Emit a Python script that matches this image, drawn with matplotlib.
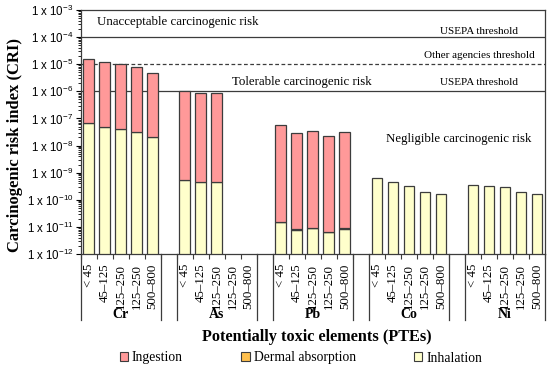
import numpy as np
import matplotlib
matplotlib.use("Agg")
import matplotlib.pyplot as plt
from matplotlib.patches import Patch
import matplotlib.transforms as mtransforms
from matplotlib.ticker import FixedLocator, LogLocator, NullFormatter

plt.rcParams['font.family'] = ['Liberation Serif', 'DejaVu Serif']
plt.rcParams['mathtext.fontset'] = 'custom'
plt.rcParams['mathtext.rm'] = 'Liberation Sans'
plt.rcParams['mathtext.it'] = 'Liberation Sans:italic'
plt.rcParams['mathtext.bf'] = 'Liberation Sans:bold'

elements = ["Cr", "As", "Pb", "Co", "Ni"]
fractions = ["< 45", "45\u2013125", "125\u2013250", "125\u2013250", "500\u2013800"]

# values per element (5 fractions each); None = no bar
inhalation = {
    "Cr": [6.6e-8, 4.95e-8, 4.2e-8, 3.2e-8, 2.0e-8],
    "As": [5.4e-10, 4.4e-10, 4.4e-10, None, None],
    "Pb": [1.47e-11, 7.9e-12, 8.9e-12, 6.3e-12, 8.7e-12],
    "Co": [6.5e-10, 4.5e-10, 3.35e-10, 2.0e-10, 1.6e-10],
    "Ni": [3.65e-10, 3.35e-10, 2.9e-10, 1.95e-10, 1.65e-10],
}
dermal = {
    "Cr": [0, 0, 0, 0, 0],
    "As": [0, 0, 0, None, None],
    "Pb": [0.6e-12, 0.5e-12, 0.5e-12, 0.4e-12, 0.5e-12],
    "Co": [0, 0, 0, 0, 0],
    "Ni": [0, 0, 0, 0, 0],
}
ingestion = {
    "Cr": [1.61e-5, 1.22e-5, 1.0e-5, 7.6e-6, 4.8e-6],
    "As": [1.04e-6, 8.8e-7, 8.8e-7, None, None],
    "Pb": [5.6e-8, 3.0e-8, 3.5e-8, 2.3e-8, 3.2e-8],
    "Co": [0, 0, 0, 0, 0],
    "Ni": [0, 0, 0, 0, 0],
}

c_ing = "#FF9999"
c_derm = "#FFC04D"
c_inh = "#FFFFCC"
edge = "#3C3C3C"

fig = plt.figure(figsize=(5.5, 3.71), dpi=100)
ax = fig.add_axes([80.5/550, 1-254/371, (545-80.5)/550, (254-10)/371])

ymin = 1e-12
bw = 0.66
tick_pos = []
tick_lab = []
for g, el in enumerate(elements):
    for j in range(5):
        x = 6*g + j
        tick_pos.append(x)
        tick_lab.append(fractions[j])
        inh = inhalation[el][j]
        if inh is None:
            continue
        de = dermal[el][j]
        ing = ingestion[el][j]
        ax.bar(x, inh - ymin, bottom=ymin, width=bw, color=c_inh, edgecolor=edge, linewidth=0.9, zorder=3)
        if de > 0:
            ax.bar(x, de, bottom=inh, width=bw, color=c_derm, edgecolor=edge, linewidth=0.9, zorder=3)
        if ing > 0:
            ax.bar(x, ing, bottom=inh + de, width=bw, color=c_ing, edgecolor=edge, linewidth=0.9, zorder=3)

ax.set_yscale('log')
ax.set_ylim(1e-12, 1e-3)
ax.set_xlim(-0.5, 28.5)

# threshold lines
ax.axhline(1e-4, color=edge, lw=0.9, zorder=2)
ax.axhline(1e-5, color=edge, lw=0.9, ls=(0, (3, 2)), zorder=2)
ax.axhline(1e-6, color=edge, lw=0.9, zorder=2)

fs_zone = 9.25
ax.text(0.5, 10**-3.46, "Unacceptable carcinogenic risk", ha='left', va='center', fontsize=fs_zone)
ax.text(13.34, 10**-5.65, "Tolerable carcinogenic risk", ha='center', va='center', fontsize=fs_zone)
ax.text(23.1, 10**-7.74, "Negligible carcinogenic risk", ha='center', va='center', fontsize=fs_zone)
ax.text(24.4, 10**-3.81, "USEPA threshold", ha='center', va='center', fontsize=8)
ax.text(24.4, 10**-4.69, "Other agencies threshold", ha='center', va='center', fontsize=8)
ax.text(24.4, 10**-5.68, "USEPA threshold", ha='center', va='center', fontsize=8)

# y ticks
ax.yaxis.set_major_locator(FixedLocator([10.0**e for e in range(-12, -2)]))
ax.set_yticklabels([f"1 x 10$^{{{e}}}$".replace("-", "\u2212") for e in range(-12, -2)],
                   fontfamily='Liberation Sans', fontsize=8.3)
ax.yaxis.set_minor_locator(LogLocator(base=10, subs=np.arange(2, 10), numticks=20))
ax.yaxis.set_minor_formatter(NullFormatter())
ax.tick_params(axis='y', which='major', direction='out', length=3.5, width=0.8, pad=1.5, colors='black')
ax.tick_params(axis='y', which='minor', direction='out', length=2, width=0.6)

# x ticks
ax.set_xticks(tick_pos)
ax.set_xticklabels(tick_lab, rotation=90, fontsize=9.3)
ax.tick_params(axis='x', which='major', length=0, pad=7)
minor_x = [6*g - 0.5 + k for g in range(5) for k in range(6)]
ax.xaxis.set_minor_locator(FixedLocator(minor_x))
ax.tick_params(axis='x', which='minor', direction='out', length=3.5, width=0.8, color=edge)

for s in ax.spines.values():
    s.set_color(edge)
    s.set_linewidth(0.9)

trans = mtransforms.blended_transform_factory(ax.transData, ax.transAxes)
ax_h = 244.0
for g, el in enumerate(elements):
    for xx in (6*g - 0.5, 6*g + 4.5):
        ax.plot([xx, xx], [0, -(320-254)/ax_h], transform=trans, color=edge, lw=0.9, clip_on=False)
    ax.text(6*g + 2, -(315-254)/ax_h, el, transform=trans, ha='center', va='center',
            fontsize=10, fontweight='bold')

fig.text(317/550, 1-337/371, "Potentially toxic elements (PTEs)", ha='center', va='center',
         fontsize=11.7, fontweight='bold')
fig.text(15/550, 1-145/371, "Carcinogenic risk index (CRI)", ha='center', va='center',
         rotation=90, fontsize=12, fontweight='bold')

handles = [Patch(facecolor=c_ing, edgecolor=edge, lw=0.8, label="Ingestion"),
           Patch(facecolor=c_derm, edgecolor=edge, lw=0.8, label="Dermal absorption"),
           Patch(facecolor=c_inh, edgecolor=edge, lw=0.8, label="Inhalation")]
fig.legend(handles=handles, loc='center', bbox_to_anchor=(301/550, 1-358/371), ncol=3, frameon=False,
           fontsize=9.8, handlelength=0.6, handleheight=0.6, handletextpad=0.3, columnspacing=4.3,
           borderpad=0, borderaxespad=0)

fig.savefig("out.png", dpi=100)
